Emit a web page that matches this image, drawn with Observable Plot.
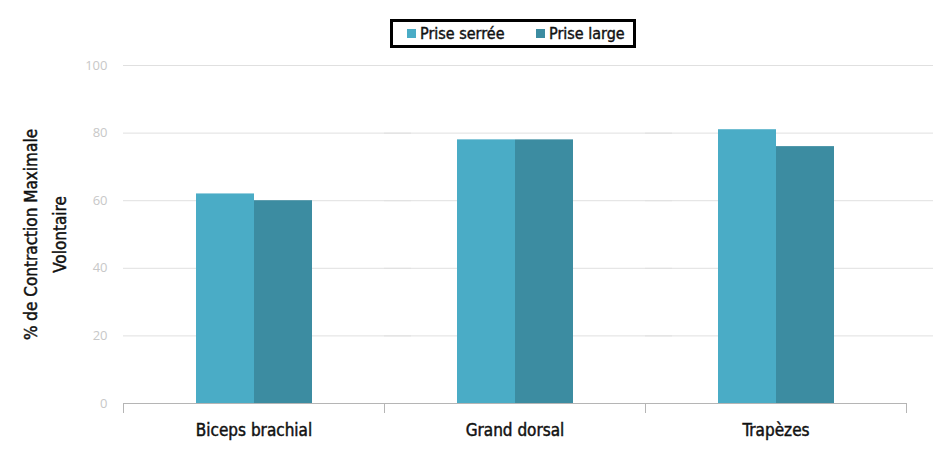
<!DOCTYPE html>
<html>
<head>
<meta charset="utf-8">
<script src="https://cdn.jsdelivr.net/npm/d3@7"></script>
<script src="https://cdn.jsdelivr.net/npm/@observablehq/plot@0.6"></script>
<style>
  html, body { margin: 0; padding: 0; background: #fff; }
  #wrap { position: relative; width: 933px; height: 459px; }
  #legend {
    position: absolute; left: 390px; top: 19px; width: 240px; height: 23px;
    border: 3px solid #000; background: #fff;
    font-family: 'DejaVu Sans', sans-serif; font-stretch: condensed;
    font-size: 16px; color: #111; -webkit-text-stroke: 0.4px #111;
  }
  .item { display: flex; align-items: center; position: absolute; top: 0; height: 23px; white-space: nowrap; }
  .sw { width: 9px; height: 9px; margin-right: 4px; }
</style>
</head>
<body>
<div id="wrap">
  <div id="chart"></div>
  <div id="legend"></div>
</div>
<script>
const categories = ["Biceps brachial", "Grand dorsal", "Trapèzes"];
const series = ["Prise serrée", "Prise large"];
const priseSerree = [62, 78, 81];
const priseLarge = [60, 78, 76];
const yTicks = [0, 20, 40, 60, 80, 100];
const colors = ["#4aacc6", "#3c8ca1"];
const yLabel = "% de Contraction Maximale\nVolontaire";

const narrow = "'DejaVu Sans', sans-serif";

const data = [];
categories.forEach((c, i) => {
  data.push({cat: c, series: series[0], value: priseSerree[i]});
  data.push({cat: c, series: series[1], value: priseLarge[i]});
});

const chart = Plot.plot({
  width: 933,
  height: 459,
  marginTop: 65,
  marginBottom: 56,
  marginLeft: 122,
  marginRight: 27,
  style: {fontFamily: "'Open Sans', sans-serif", background: "#fff"},
  fx: {domain: categories, paddingInner: 0, paddingOuter: 0, label: null},
  x: {domain: series, paddingInner: 0, paddingOuter: 1.25, axis: null},
  y: {domain: [0, 100], label: null},
  color: {domain: series, range: colors},
  marks: [
    Plot.ruleY(yTicks.filter(d => d > 0), {stroke: "#e0e0e0", insetRight: -27}),
    Plot.barY(data, {fx: "cat", x: "series", y: "value", fill: "series"}),
    Plot.ruleY([0], {stroke: "#b5b5b5"}),
    Plot.frame({anchor: "left", stroke: "#b5b5b5", insetTop: 338, insetBottom: -9}),
    Plot.frame({anchor: "right", stroke: "#b5b5b5", insetTop: 338, insetBottom: -9}),
    Plot.axisY({ticks: yTicks, tickSize: 0, tickPadding: 16, fill: "#c8c8c8", fontSize: 13, label: null}),
    Plot.axisFx({anchor: "bottom", tickSize: 0, tickPadding: 20, fill: "#111", fontSize: 17, fontFamily: narrow, label: null}),
    Plot.text([yLabel], {
      fx: () => categories[0],
      text: d => d,
      frameAnchor: "left",
      textAnchor: "middle",
      rotate: -90,
      dx: -81,
      fontSize: 17,
      lineHeight: 1.65,
      fill: "#111",
      fontFamily: narrow
    })
  ]
});
d3.select(chart).selectAll("g[font-family*='DejaVu']")
  .style("font-stretch", "condensed")
  .selectAll("text")
  .style("stroke", "#111")
  .style("stroke-width", "0.45px");
document.getElementById("chart").appendChild(chart);

const legend = document.getElementById("legend");
const lefts = [14, 143];
series.forEach((s, i) => {
  const it = document.createElement("div");
  it.className = "item";
  it.style.left = lefts[i] + "px";
  const sw = document.createElement("div");
  sw.className = "sw";
  sw.style.background = colors[i];
  const t = document.createElement("span");
  t.textContent = s;
  it.appendChild(sw);
  it.appendChild(t);
  legend.appendChild(it);
});
</script>
</body>
</html>
